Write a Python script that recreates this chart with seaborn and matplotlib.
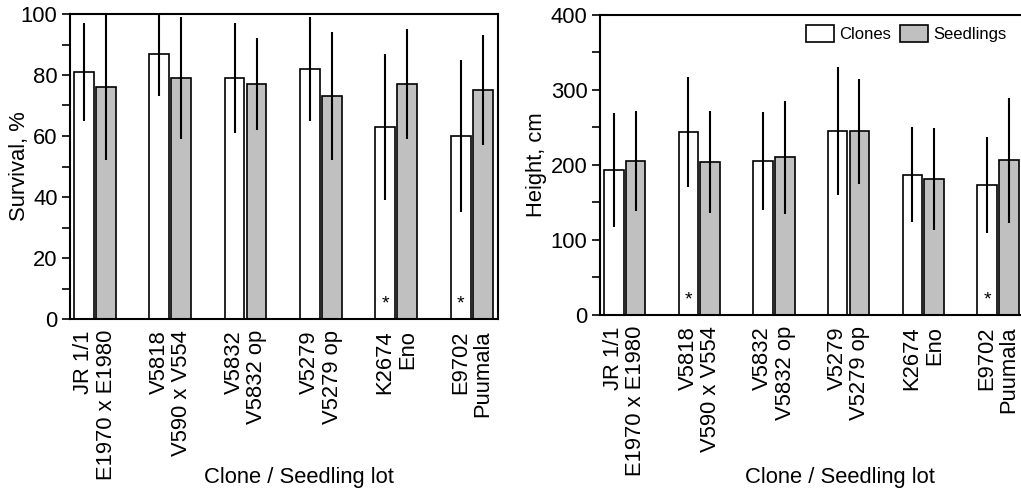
import matplotlib
matplotlib.use("Agg")
import matplotlib.pyplot as plt
import numpy as np
import pandas as pd
import seaborn as sns
from matplotlib.patches import Patch

# ---------------- data ----------------
lots = ["JR 1/1\nE1970 x E1980", "V5818\nV590 x V554", "V5832\nV5832 op",
        "V5279\nV5279 op", "K2674\nEno", "E9702\nPuumala"]
groups = ["Clones", "Seedlings"]

surv_clone = [81, 87, 79, 82, 63, 60]
surv_clone_err = [16, 14, 18, 17, 24, 25]
surv_seed = [76, 79, 77, 73, 77, 75]
surv_seed_err = [24, 20, 15, 21, 18, 18]
surv_sig = [False, False, False, False, True, True]

height_clone = [193, 244, 205, 245, 187, 173]
height_clone_err = [76, 73, 65, 85, 63, 64]
height_seed = [205, 204, 210, 245, 181, 206]
height_seed_err = [67, 68, 75, 70, 68, 83]
height_sig = [False, True, False, False, False, True]

surv_ticks = [0, 20, 40, 60, 80, 100]
surv_minor = [10, 30, 50, 70, 90]
height_ticks = [0, 100, 200, 300, 400]
height_minor = [50, 150, 250, 350]

# ---------------- style ----------------
sns.set_style("ticks")
plt.rcParams["font.family"] = ["Liberation Sans", "DejaVu Sans"]
plt.rcParams.update({
    "axes.linewidth": 1.5,
    "axes.edgecolor": "black",
    "axes.labelcolor": "black",
    "xtick.color": "black",
    "ytick.color": "black",
    "text.color": "black",
})

fig = plt.figure(figsize=(10.21, 4.93), dpi=100)
ax1 = fig.add_axes([70 / 1021, 1 - 319 / 493, 428 / 1021, 305 / 493])
ax2 = fig.add_axes([600 / 1021, 1 - 315 / 493, 424 / 1021, 300.3 / 493])

palette = {"Clones": "white", "Seedlings": "#c0c0c0"}
FS = 15.8


def panel(ax, clone, seed, cerr, serr, sig, ymax, major, minor, ylabel,
          star_y, ylab_x, xlab_xy):
    df = pd.DataFrame({
        "lot": lots * 2,
        "group": ["Clones"] * len(lots) + ["Seedlings"] * len(lots),
        "value": clone + seed,
    })
    sns.barplot(data=df, x="lot", y="value", hue="group", order=lots,
                hue_order=groups, palette=palette, saturation=1,
                width=0.584, gap=0.1, edgecolor="black", linewidth=1.2,
                errorbar=None, legend=False, ax=ax)
    for cont, errs in zip(ax.containers, [cerr, serr]):
        xs = [b.get_x() + b.get_width() / 2 for b in cont]
        ys = [b.get_height() for b in cont]
        ax.errorbar(xs, ys, yerr=errs, fmt="none", ecolor="black",
                    elinewidth=1.5, capsize=0, zorder=5)
    for b, s in zip(ax.containers[0], sig):
        if s:
            ax.text(b.get_x() + b.get_width() / 2, star_y, "*", ha="center",
                    va="center", fontsize=14, color="black")
    ax.set_xlim(-0.33, 5.35)
    ax.set_ylim(0, ymax)
    ax.set_yticks(major)
    ax.set_yticks(minor, minor=True)
    ax.tick_params(axis="y", which="both", direction="out", length=6,
                   width=1.2, labelsize=FS, pad=3)
    ax.tick_params(axis="x", length=0, labelsize=FS, pad=8)
    for lab in ax.get_xticklabels():
        lab.set_rotation(90)
        lab.set_multialignment("right")
        lab.set_linespacing(1.1)
    for sp in ax.spines.values():
        sp.set_linewidth(1.5)
        sp.set_visible(True)
    ax.set_ylabel(ylabel, fontsize=FS)
    ax.yaxis.set_label_coords(ylab_x, 0.5)
    ax.set_xlabel("Clone / Seedling lot", fontsize=FS)
    ax.xaxis.set_label_coords(*xlab_xy)


panel(ax1, surv_clone, surv_seed, surv_clone_err, surv_seed_err, surv_sig,
      100, surv_ticks, surv_minor, "Survival, %", 5.0, -0.094, (0.534, -0.485))
panel(ax2, height_clone, height_seed, height_clone_err, height_seed_err,
      height_sig, 400, height_ticks, height_minor, "Height, cm", 20, -0.125,
      (0.566, -0.505))

handles = [Patch(facecolor=palette[g], edgecolor="black", linewidth=1.2)
           for g in groups]
ax2.legend(handles, groups, loc="upper left", bbox_to_anchor=(0.486, 0.965),
           ncol=2, frameon=False, fontsize=12, handlelength=1.65,
           handleheight=1.2, handletextpad=0.35, columnspacing=0.55,
           borderpad=0, borderaxespad=0)

fig.savefig("out.png", dpi=100)
